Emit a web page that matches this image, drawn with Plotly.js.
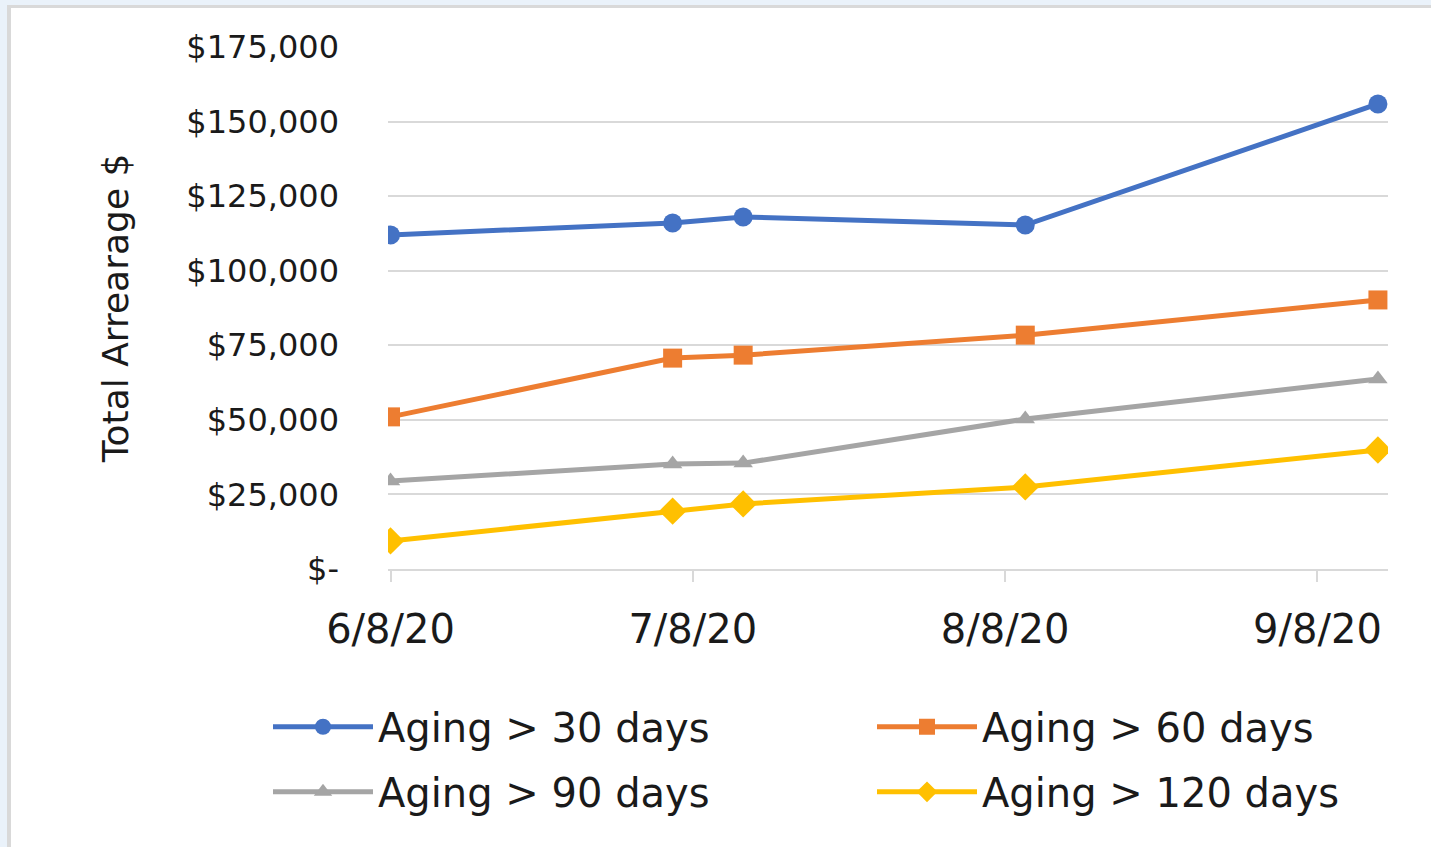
<!DOCTYPE html>
<html>
<head>
<meta charset="utf-8">
<script src="https://cdn.plot.ly/plotly-3.0.1.min.js"></script>
<style>
  html, body { margin: 0; padding: 0; }
  body { width: 1431px; height: 847px; position: relative; background: #eaf2fa; overflow: hidden; }
  #frame { position: absolute; left: 7px; top: 5px; right: 0; bottom: 0; background: #ffffff;
           border-left: 4px solid #d9d9d9; border-top: 3px solid #d9d9d9; }
  #chart { position: absolute; left: 0; top: 0; width: 1431px; height: 847px; }
</style>
</head>
<body>
<div id="frame"></div>
<div id="chart"></div>
<script>
// ---- data ----
const dates = ['2020-06-08', '2020-07-06', '2020-07-13', '2020-08-10', '2020-09-14'];
const aging30  = [112000, 116000, 118000, 115300, 155900];
const aging60  = [51000, 70700, 71700, 78400, 90200];
const aging90  = [29500, 35200, 35500, 50300, 63700];
const aging120 = [9400, 19400, 21800, 27500, 39900];
const seriesNames = ['Aging > 30 days', 'Aging > 60 days', 'Aging > 90 days', 'Aging > 120 days'];

const xTickVals = ['2020-06-08', '2020-07-08', '2020-08-08', '2020-09-08'];
const xTickText = ['6/8/20', '7/8/20', '8/8/20', '9/8/20'];
const yTickVals = [0, 25000, 50000, 75000, 100000, 125000, 150000, 175000];
const yTickText = ['$-', '$25,000', '$50,000', '$75,000', '$100,000', '$125,000', '$150,000', '$175,000'];

const FONT = 'DejaVu Sans, Open Sans, sans-serif';
const TXT = '#1a1a1a';
const colors = ['#4472C4', '#ED7D31', '#A5A5A5', '#FFC000'];
const symbols = ['circle', 'square', 'triangle-up', 'diamond'];
const sizes = [19, 19, 17, 21];
const legendIds = ['legend', 'legend2', 'legend', 'legend2'];
const values = [aging30, aging60, aging90, aging120];

const traces = values.map((v, i) => ({
  type: 'scatter',
  mode: 'lines+markers',
  name: seriesNames[i],
  legend: legendIds[i],
  legendgroup: 'g' + i,
  x: dates,
  y: v,
  line: { color: colors[i], width: 5 },
  marker: { color: colors[i], symbol: symbols[i], size: sizes[i] }
}));

const legendBase = {
  orientation: 'v',
  xanchor: 'left',
  y: -0.24,
  yanchor: 'top',
  itemwidth: 100,
  tracegroupgap: 10,
  font: { family: FONT, size: 40, color: TXT },
  bgcolor: 'rgba(0,0,0,0)'
};

const layout = {
  width: 1431,
  height: 847,
  paper_bgcolor: 'rgba(0,0,0,0)',
  plot_bgcolor: 'rgba(0,0,0,0)',
  margin: { l: 388, r: 43, t: 47, b: 278, autoexpand: false },
  font: { family: FONT, color: TXT },
  showlegend: true,
  xaxis: {
    type: 'date',
    range: ['2020-06-07 18:00', '2020-09-15 00:00'],
    tickmode: 'array',
    tickvals: xTickVals,
    ticktext: xTickText,
    ticks: 'outside',
    ticklen: 11,
    tickwidth: 2,
    tickcolor: '#d9d9d9',
    showline: true,
    linecolor: '#d9d9d9',
    linewidth: 2,
    showgrid: false,
    zeroline: false,
    ticklabelstandoff: 13,
    tickfont: { family: FONT, size: 40, color: TXT }
  },
  yaxis: {
    range: [0, 175000],
    tickmode: 'array',
    tickvals: yTickVals,
    ticktext: yTickText,
    showgrid: true,
    gridcolor: '#d9d9d9',
    gridwidth: 2,
    zeroline: false,
    showline: false,
    ticks: '',
    ticklabelstandoff: 48,
    tickfont: { family: FONT, size: 32, color: TXT },
    title: { text: 'Total Arrearage $', standoff: 46, font: { family: FONT, size: 36, color: TXT } }
  },
  legend: Object.assign({}, legendBase, { x: -0.12 }),
  legend2: Object.assign({}, legendBase, { x: 0.484 })
};

Plotly.newPlot('chart', traces, layout, { displayModeBar: false, staticPlot: true });
</script>
</body>
</html>
